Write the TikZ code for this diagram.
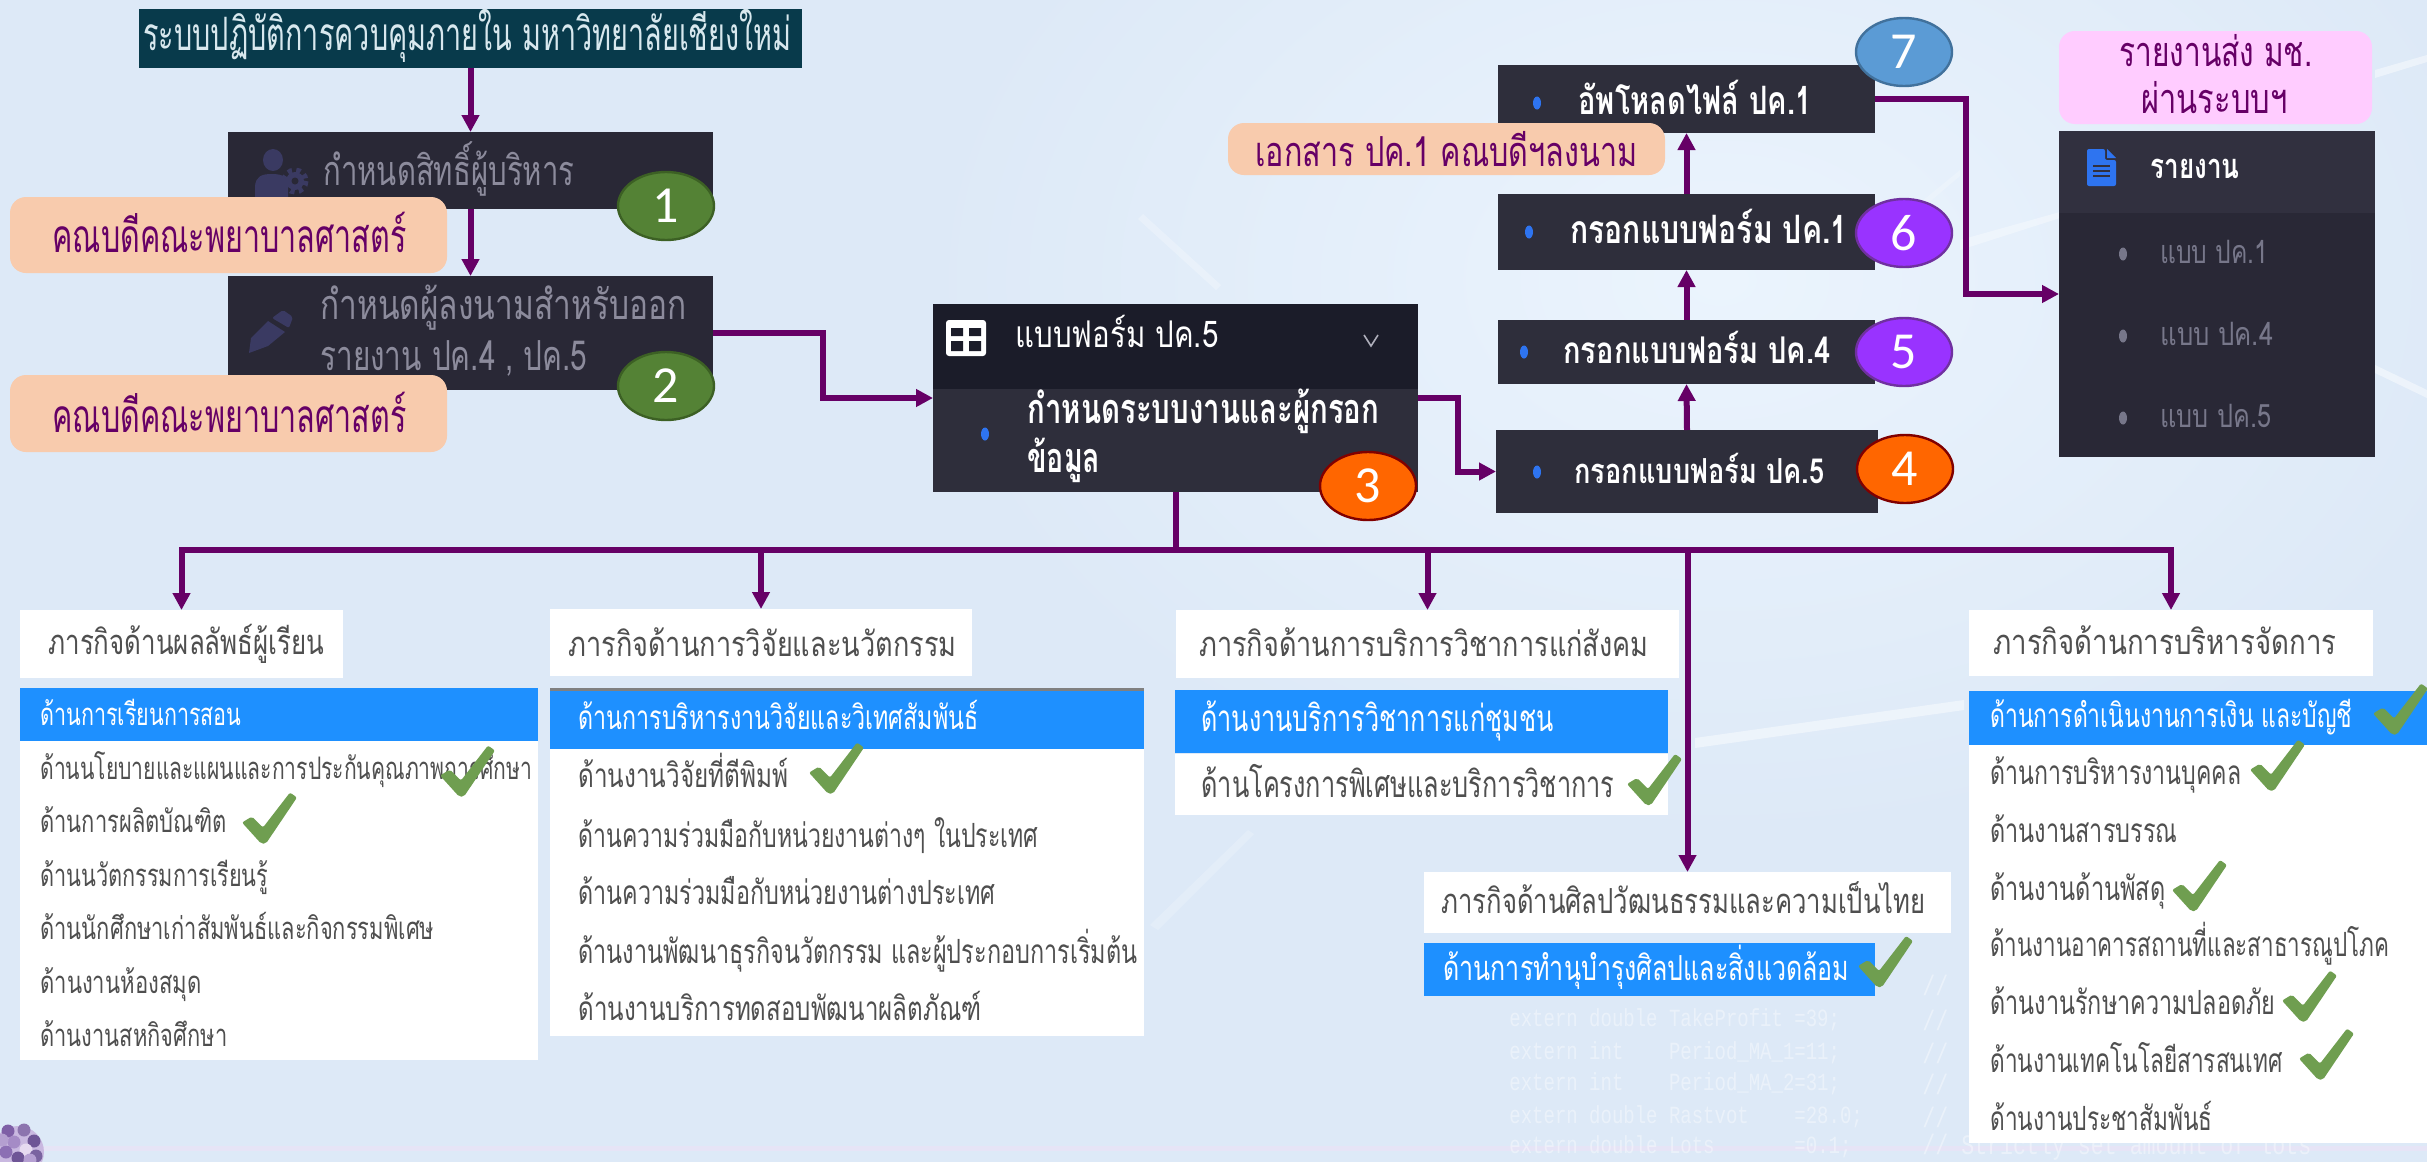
\documentclass[tikz,border=0pt]{standalone}
\usepackage{graphicx}
\usepackage{fontspec}
\usetikzlibrary{arrows.meta,shapes.geometric,calc}
\newfontfamily\thaifnt[Script=Thai]{Loma}
\newfontfamily\numfnt{Carlito}
\newfontfamily\codefnt{Liberation Mono}
\definecolor{bgbase}{HTML}{DDE9F7}
\definecolor{bglite}{HTML}{EBF4FD}
\definecolor{bgband}{HTML}{E6E4F6}
\definecolor{tealbox}{HTML}{083A4B}
\definecolor{tealtxt}{HTML}{D8E8EE}
\definecolor{darkA}{HTML}{292836}
\definecolor{darkB}{HTML}{2E2E3B}
\definecolor{darkC}{HTML}{1B1C29}
\definecolor{darkD}{HTML}{31303F}
\definecolor{grayA}{HTML}{8C8B9C}
\definecolor{grayB}{HTML}{77778A}
\definecolor{grayT}{HTML}{4F4F4F}
\definecolor{iconA}{HTML}{3A3A62}
\definecolor{peach}{HTML}{F8CBAD}
\definecolor{pinkb}{HTML}{FFCCFF}
\definecolor{purp}{HTML}{660066}
\definecolor{lblue}{HTML}{1E90FF}
\definecolor{dotb}{HTML}{2E74F0}
\definecolor{chkc}{HTML}{6F9E50}
\definecolor{flw}{HTML}{C9B8E0}
\definecolor{greenF}{HTML}{548235}
\definecolor{greenD}{HTML}{3C6024}
\definecolor{orangeF}{HTML}{FF6600}
\definecolor{orangeD}{HTML}{800000}
\definecolor{violetF}{HTML}{9933FF}
\definecolor{violetD}{HTML}{7030A0}
\definecolor{blueF}{HTML}{5B9BD5}
\definecolor{blueD}{HTML}{41719C}
\tikzset{
  x=0.5pt,y=-0.5pt,
  conn/.style={draw=purp,line width=3pt},
  arr/.style={conn,-{Triangle[width=8.5pt,length=8.5pt]}},
  callout/.style={rounded corners=8pt},
  badge/.style={ellipse,inner sep=0pt,minimum width=48pt,minimum height=34pt,line width=1.2pt,text=white,font=\numfnt\fontsize{26}{26}\selectfont},
  codetxt/.style={anchor=west,inner sep=0pt,text=white,text opacity=.4},
}
\newcommand\namedbox[7][]{\node[anchor=north west,inner sep=0pt,outer sep=0pt,fill=#7,#1,
  minimum width={(#5-#3)*0.5pt},minimum height={(#6-#4)*0.5pt}] (#2) at (#3,#4) {};}
% text: name x ycentre width size colour text
\newcommand\puttext[7]{\node[anchor=base west,inner sep=0pt,text=#6,yshift={-0.31*#5 pt}] (#1) at (#2,#3)
  {\resizebox{\dimexpr#4pt/2\relax}{1.15\height}{\fontsize{#5}{#5}\selectfont\thaifnt #7}};}
\newcommand\putcheck[2]{\fill[chkc,rounded corners=1pt,shift={(#1,#2)}]
  (-21,-21) -- (-11,-27) -- (0,-16) -- (27,-51) -- (34,-46) -- (3,0) -- (-2,0) -- cycle;}
\newcommand\putdot[3][dotb]{\fill[#1] (#2,#3) ellipse [x radius=4,y radius=6.5];}
\begin{document}
\begin{tikzpicture}
\useasboundingbox (0,0) rectangle (2427,1162);
\begin{scope}
\clip (0,0) rectangle (2427,1162);
\fill[bgbase] (0,0) rectangle (2427,1162);
\shade[inner color=bglite,outer color=bgbase] (1720,280) ellipse [x radius=800,y radius=560];
\fill[white,opacity=.35] (1960,240) -- (2060,212) -- (2060,218) -- (1960,250) -- cycle;
\fill[white,opacity=.45] (1695,738) -- (1964,700) -- (1964,710) -- (1695,748) -- cycle;
\fill[white,opacity=.45] (2375,70) -- (2427,55) -- (2427,62) -- (2375,78) -- cycle;
\fill[white,opacity=.45] (2375,365) -- (2427,390) -- (2427,398) -- (2375,373) -- cycle;
\fill[white,opacity=.25] (1143,214) -- (1221,285) -- (1216,290) -- (1138,219) -- cycle;
\fill[white,opacity=.2] (1150,925) -- (1248,830) -- (1254,834) -- (1158,930) -- cycle;
\fill[white,opacity=.2] (1875,240) -- (1960,170) -- (1960,176) -- (1875,248) -- cycle;
\fill[bgband] (0,1146) rectangle (2427,1151);
% faint code in the background
\foreach \yy/\ln in {1020/extern double TakeProfit =39;,1053/extern int~~~~Period\_MA\_1=11;,1084/extern int~~~~Period\_MA\_2=31;,1117/extern double Rastvot~~~~=28.0;,1147/extern double Lots~~~~~~~=0.1;}
  \node[codetxt] at (1509,\yy) {\scalebox{1}[1.3]{\codefnt\fontsize{9.5}{9.5}\selectfont \ln}};
\node[codetxt] at (1922,1147) {\scalebox{1}[1.3]{\codefnt\fontsize{10.8}{10.8}\selectfont // Strictly set amount of lots}};
\foreach \yy in {985,1020,1053,1084,1117}
  \node[codetxt] at (1922,\yy) {\scalebox{1}[1.3]{\codefnt\fontsize{10.8}{10.8}\selectfont //}};
% flower in the corner
\fill[flw] (18,1152) circle [radius=26];
\foreach \xx/\yy/\cc in {8/1131/7E5FA6,24/1130/8C74AE,34/1141/6E5596,14/1142/A58BC6,26/1150/E6DAF0,6/1152/8C6FB4,36/1156/7A63A0,18/1158/6E5596,30/1160/B59FD2,2/1140/B49FD0}{
  \definecolor{flc}{HTML}{\cc}
  \fill[flc] (\xx,\yy) circle [radius=6.5];}
\end{scope}

% ---- dark menu boxes
\namedbox{title}{139}{9}{802}{68}{tealbox}
\namedbox{bA}{228}{132}{713}{209}{darkA}
\namedbox{bB}{228}{276}{713}{390}{darkA}
\namedbox{bC}{933}{304}{1418}{492}{darkB}
\namedbox{bCh}{933}{304}{1418}{389}{darkC}
\namedbox{bF}{1496}{430}{1878}{513}{darkB}
\namedbox{bE}{1498}{320}{1875}{384}{darkB}
\namedbox{bD}{1498}{194}{1875}{270}{darkB}
\namedbox{bG}{1498}{65}{1875}{133}{darkB}
\namedbox{rp}{2059}{131}{2375}{457}{darkA}
\namedbox{rh}{2059}{131}{2375}{213}{darkD}

% ---- heading and list panels
\namedbox{hA}{20}{610}{343}{678}{white}
\namedbox{lA}{20}{688}{538}{1060}{white}
\namedbox{lAb}{20}{688}{538}{741}{lblue}
\namedbox{hB}{550}{609}{972}{676}{white}
\namedbox{lB}{550}{688}{1144}{1036}{white}
\namedbox{lBb}{550}{690}{1144}{749}{lblue}
\namedbox{lBl}{550}{688}{1144}{691}{gray}
\namedbox{hC}{1176}{610}{1679}{678}{white}
\namedbox{lC}{1175}{754}{1668}{815}{white}
\namedbox{lCb}{1175}{690}{1668}{753}{lblue}
\namedbox{hE}{1424}{872}{1951}{933}{white}
\namedbox{lE}{1424}{943}{1875}{996}{lblue}
\namedbox{hD}{1969}{610}{2373}{676}{white}
\namedbox{lD}{1969}{691}{2427}{1143}{white}
\namedbox{lDb}{1969}{691}{2427}{745}{lblue}

% ---- connectors
\coordinate (busy) at (0,550);
\coordinate (trunk) at (bC.south |- busy);
\draw[arr] (title) -- (bA);
\draw[arr] (bA) -- (bB);
\draw[arr] (bB.east) -- ++(110,0) |- (bC.west);
\draw[arr] (bC.east) -- ++(40,0) |- (bF.west);
\draw[arr] (bF.north) -- (bE.south);
\draw[arr] (bE.north) -- (bD.south);
\draw[arr] (bD.north) -- (bG.south);
\draw[arr] (bG.east) -- ++(91,0) |- (rp.west);
\draw[conn] (bC.south) -- (trunk);
\draw[arr] (trunk) -| (hA.north);
\draw[arr] (trunk) -| (hB.north);
\draw[arr] (trunk) -| (hC.north);
\draw[arr] (trunk) -| (hD.north);
\draw[arr] (trunk) -| (hE.north);

% ---- icons
\fill[iconA] (273,160) ellipse [x radius=10,y radius=11];
\fill[iconA] (255,197) -- (255,186) .. controls (256,176) and (262,174) .. (272,174) .. controls (284,174) and (288,178) .. (288,186) -- (288,197) -- cycle;
\fill[iconA] (295,181) circle [radius=9];
\draw[iconA,line width=2.5pt,dash pattern=on 2.2pt off 2.2pt] (295,181) circle [radius=11];
\fill[darkA] (295,181) circle [radius=3.5];
\fill[iconA] (249,353) -- (251,338) -- (268,321) -- (285,332) -- (268,346) -- cycle;
\fill[iconA,rounded corners=1pt] (272,318) -- (283,310) -- (293,317) -- (289,328) -- cycle;
\fill[rounded corners=1.5pt,white] (946,320) rectangle (986,356);
\fill[darkC] (951,328) rectangle (963,336) (969,328) rectangle (981,336) (951,341) rectangle (963,351) (969,341) rectangle (981,351);
\draw[grayA!70!white,line width=.8pt] (1364,335) -- (1371,346) -- (1378,335);
\fill[dotb,rounded corners=1pt] (2087,149) -- (2105,149) -- (2105,160) -- (2116,160) -- (2116,186) -- (2087,186) -- cycle;
\fill[dotb] (2107,149) -- (2116,158) -- (2107,158) -- cycle;
\draw[darkD,line width=1pt] (2093,166) -- (2110,166) (2093,171) -- (2110,171) (2093,176) -- (2110,176);
\putdot{1537}{103}\putdot{1529}{232}\putdot{1524}{352}\putdot{1537}{472}\putdot{985}{434}
\putdot[grayB]{2123}{254}\putdot[grayB]{2123}{336}\putdot[grayB]{2123}{418}

% ---- callouts
\namedbox[callout]{cA}{10}{197}{447}{273}{peach}
\namedbox[callout]{cB}{10}{375}{447}{452}{peach}
\namedbox[callout]{cC}{1228}{123}{1665}{175}{peach}
\namedbox[callout]{cD}{2059}{31}{2372}{124}{pinkb}

% ---- box texts
\puttext{tTitle}{143}{38}{648}{20}{tealtxt}{ระบบปฏิบัติการควบคุมภายใน มหาวิทยาลัยเชียงใหม่}
\puttext{tA}{323}{174}{251}{18}{grayA}{กำหนดสิทธิ์ผู้บริหาร}
\puttext{tB}{320}{308}{366}{18}{grayA}{กำหนดผู้ลงนามสำหรับออก}
\puttext{tBb}{320}{359}{267}{18}{grayA}{รายงาน ปค.4 , ปค.5}
\puttext{tcA}{52}{240}{354}{20}{purp}{คณบดีคณะพยาบาลศาสตร์}
\puttext{tcB}{52}{420}{354}{20}{purp}{คณบดีคณะพยาบาลศาสตร์}
\puttext{tcC}{1255}{155}{382}{18}{purp}{เอกสาร ปค.1 คณบดีฯลงนาม}
\puttext{tcD}{2119}{55}{193}{18}{purp}{รายงานส่ง มช.}
\puttext{tcE}{2141}{102}{146}{18}{purp}{ผ่านระบบฯ}
\puttext{tG}{1578}{104}{233}{17}{white}{\bfseries อัพโหลดไฟล์ ปค.1}
\puttext{tD}{1570}{233}{277}{17}{white}{\bfseries กรอกแบบฟอร์ม ปค.1}
\puttext{tE}{1563}{354}{267}{16}{white}{\bfseries กรอกแบบฟอร์ม ปค.4}
\puttext{tF}{1574}{474}{250}{15}{white}{\bfseries กรอกแบบฟอร์ม ปค.5}
\puttext{tCh}{1015}{338}{203}{16}{white}{แบบฟอร์ม ปค.5}
\puttext{tC}{1027}{412}{352}{18}{white}{\bfseries กำหนดระบบงานและผู้กรอก}
\puttext{tCb}{1027}{461}{73}{18}{white}{\bfseries ข้อมูล}
\puttext{tRh}{2150}{169}{89}{15}{white}{\bfseries รายงาน}
\puttext{tRa}{2160}{255}{108}{14}{grayB}{แบบ ปค.1}
\puttext{tRb}{2160}{337}{113}{14}{grayB}{แบบ ปค.4}
\puttext{tRc}{2160}{419}{111}{14}{grayB}{แบบ ปค.5}

% ---- list texts
\puttext{thA}{48}{645}{276}{15}{grayT}{ภารกิจด้านผลลัพธ์ผู้เรียน}
\puttext{a1}{40}{717}{201}{13.5}{white}{ด้านการเรียนการสอน}
\puttext{a2}{40}{771}{492}{13.5}{grayT}{ด้านนโยบายและแผนและการประกันคุณภาพการศึกษา}
\puttext{a3}{40}{824}{186}{13.5}{grayT}{ด้านการผลิตบัณฑิต}
\puttext{a4}{40}{878}{228}{13.5}{grayT}{ด้านนวัตกรรมการเรียนรู้}
\puttext{a5}{40}{931}{394}{13.5}{grayT}{ด้านนักศึกษาเก่าสัมพันธ์และกิจกรรมพิเศษ}
\puttext{a6}{40}{985}{161}{13.5}{grayT}{ด้านงานห้องสมุด}
\puttext{a7}{40}{1038}{187}{13.5}{grayT}{ด้านงานสหกิจศึกษา}

\puttext{thB}{568}{647}{388}{15}{grayT}{ภารกิจด้านการวิจัยและนวัตกรรม}
\puttext{b1}{578}{721}{400}{14.5}{white}{ด้านการบริหารงานวิจัยและวิเทศสัมพันธ์}
\puttext{b2}{578}{779}{210}{14.5}{grayT}{ด้านงานวิจัยที่ตีพิมพ์}
\puttext{b3}{578}{838}{460}{14.5}{grayT}{ด้านความร่วมมือกับหน่วยงานต่างๆ ในประเทศ}
\puttext{b4}{578}{896}{417}{14.5}{grayT}{ด้านความร่วมมือกับหน่วยงานต่างประเทศ}
\puttext{b5}{578}{954}{559}{14.5}{grayT}{ด้านงานพัฒนาธุรกิจนวัตกรรม และผู้ประกอบการเริ่มต้น}
\puttext{b6}{578}{1011}{403}{14.5}{grayT}{ด้านงานบริการทดสอบพัฒนาผลิตภัณฑ์}

\puttext{thC}{1199}{647}{449}{15}{grayT}{ภารกิจด้านการบริการวิชาการแก่สังคม}
\puttext{c1}{1201}{722}{352}{16}{white}{ด้านงานบริการวิชาการแก่ชุมชน}
\puttext{c2}{1201}{788}{413}{16}{grayT}{ด้านโครงการพิเศษและบริการวิชาการ}

\puttext{thE}{1441}{904}{484}{15}{grayT}{ภารกิจด้านศิลปวัฒนธรรมและความเป็นไทย}
\puttext{e1}{1443}{971}{406}{15}{white}{ด้านการทำนุบำรุงศิลปและสิ่งแวดล้อม}

\puttext{thD}{1993}{645}{343}{15}{grayT}{ภารกิจด้านการบริหารจัดการ}
\puttext{d1}{1990}{718}{362}{14.5}{white}{ด้านการดำเนินงานการเงิน และบัญชี}
\puttext{d2}{1990}{775}{251}{14.5}{grayT}{ด้านการบริหารงานบุคคล}
\puttext{d3}{1990}{833}{187}{14.5}{grayT}{ด้านงานสารบรรณ}
\puttext{d4}{1990}{891}{175}{14.5}{grayT}{ด้านงานด้านพัสดุ}
\puttext{d5}{1990}{948}{399}{14.5}{grayT}{ด้านงานอาคารสถานที่และสาธารณูปโภค}
\puttext{d6}{1990}{1005}{285}{14.5}{grayT}{ด้านงานรักษาความปลอดภัย}
\puttext{d7}{1990}{1063}{292}{14.5}{grayT}{ด้านงานเทคโนโลยีสารสนเทศ}
\puttext{d8}{1990}{1121}{222}{14.5}{grayT}{ด้านงานประชาสัมพันธ์}

% ---- check marks
\putcheck{461}{796.5}
\putcheck{263}{843.5}
\putcheck{830}{793.6}
\putcheck{1648}{805}
\putcheck{1879}{987}
\putcheck{2394}{734.5}
\putcheck{2271}{790.7}
\putcheck{2193}{911}
\putcheck{2303}{1021.6}
\putcheck{2320}{1079.6}

% ---- number badges
\node[badge,fill=greenF,draw=greenD] (n1) at (666,206) {1};
\node[badge,fill=greenF,draw=greenD] (n2) at (666,386) {2};
\node[badge,fill=orangeF,draw=orangeD] (n3) at (1368,486) {3};
\node[badge,fill=orangeF,draw=orangeD] (n4) at (1905,469) {4};
\node[badge,fill=violetF,draw=violetD] (n5) at (1904,352) {5};
\node[badge,fill=violetF,draw=violetD] (n6) at (1904,233) {6};
\node[badge,fill=blueF,draw=blueD] (n7) at (1904,52) {7};
\end{tikzpicture}
\end{document}
